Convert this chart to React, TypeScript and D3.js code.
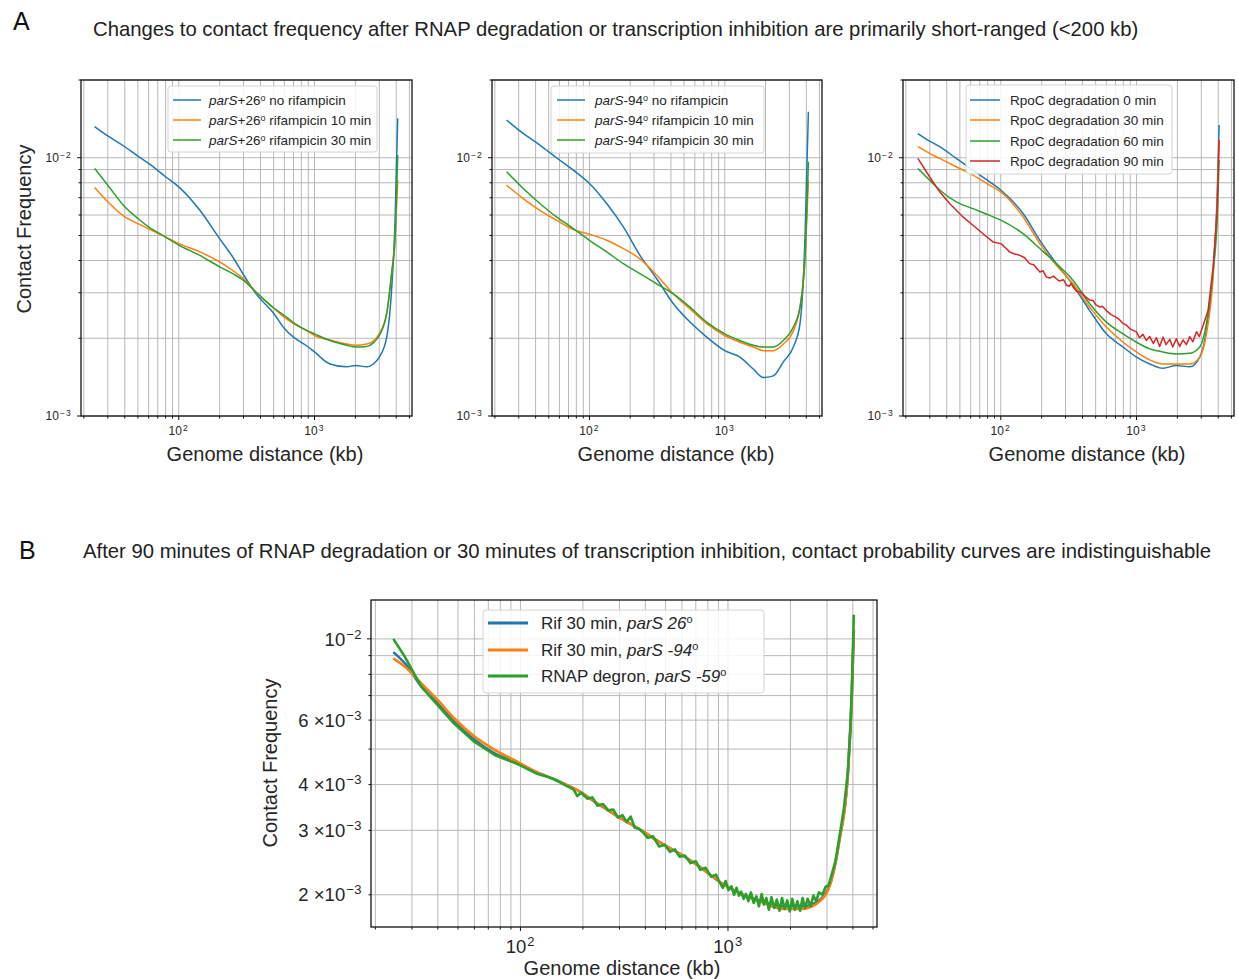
import React, { useEffect } from 'react';
import * as d3 from 'd3';

const FONT = '"Liberation Sans", Arial, Helvetica, sans-serif';
const BLUE = '#1f77b4';
const ORANGE = '#ff7f0e';
const GREEN = '#2ca02c';
const RED = '#d62728';

// ---------- data (kb, contact frequency) ----------
const A1_X = [24, 30, 40, 50, 60, 80, 100, 143, 200, 252, 300, 375, 500, 600, 700, 900, 1000, 1300, 1726, 2000, 2424, 2712, 3000, 3404, 3706, 3921, 4100];
const A1_NO_RIF = [0.0132, 0.01214, 0.01103, 0.01015, 0.00951, 0.00844, 0.00771, 0.00626, 0.00486, 0.0041, 0.00352, 0.00295, 0.0025, 0.00218, 0.00202, 0.00185, 0.00177, 0.00159, 0.00155, 0.00157, 0.00155, 0.00159, 0.00169, 0.00202, 0.00315, 0.00573, 0.01422];
const A1_RIF10 = [0.00767, 0.00675, 0.0059, 0.00556, 0.0053, 0.00493, 0.00465, 0.00432, 0.00395, 0.00365, 0.0034, 0.003, 0.00262, 0.00241, 0.00228, 0.00212, 0.00205, 0.00197, 0.0019, 0.00188, 0.0019, 0.00195, 0.00208, 0.0025, 0.0036, 0.0049, 0.0082];
const A1_RIF30 = [0.00909, 0.00783, 0.00646, 0.00582, 0.0054, 0.00493, 0.00459, 0.00419, 0.00378, 0.00355, 0.00335, 0.003, 0.00262, 0.00245, 0.0023, 0.00213, 0.00208, 0.00196, 0.00188, 0.00185, 0.00186, 0.00192, 0.00205, 0.0025, 0.0036, 0.0049, 0.01024];

const A2_X = [24.4, 32.4, 43, 57, 76, 100, 134, 178, 236, 314, 417, 553, 735, 1000, 1294, 1624, 1926, 2282, 2707, 3210, 3594, 3914, 4144];
const A2_NO_RIF = [0.014, 0.01242, 0.0112, 0.01, 0.00895, 0.00795, 0.00665, 0.0054, 0.00419, 0.0034, 0.00272, 0.00231, 0.00202, 0.00179, 0.00169, 0.00152, 0.00141, 0.00143, 0.00162, 0.00185, 0.00228, 0.00493, 0.01506];
const A2_RIF10 = [0.00783, 0.00695, 0.00626, 0.00573, 0.00527, 0.00506, 0.00479, 0.00445, 0.00406, 0.00351, 0.00297, 0.0026, 0.00228, 0.00205, 0.00193, 0.00185, 0.00179, 0.00179, 0.0019, 0.00214, 0.00264, 0.00413, 0.00819];
const A2_RIF30 = [0.00883, 0.0076, 0.00665, 0.0059, 0.00532, 0.00479, 0.00432, 0.00389, 0.00356, 0.00325, 0.00297, 0.00264, 0.00231, 0.00208, 0.00196, 0.00188, 0.00185, 0.00185, 0.00196, 0.00221, 0.00264, 0.00413, 0.00965];

const A3_X = [24.5, 29.9, 35.5, 47, 62.4, 82.8, 100, 146, 194, 257, 341, 452, 600, 796, 1000, 1251, 1567, 1966, 2466, 2923, 3273, 3667, 3926, 4060];
const A3_DEG0 = [0.0124, 0.0116, 0.01104, 0.00994, 0.00895, 0.00807, 0.0075, 0.00608, 0.00479, 0.00389, 0.00321, 0.00256, 0.00208, 0.00185, 0.00169, 0.00159, 0.00153, 0.00157, 0.00155, 0.00169, 0.00214, 0.00366, 0.00706, 0.0134];
const A3_DEG30 = [0.01104, 0.0104, 0.00994, 0.00923, 0.00857, 0.00783, 0.00738, 0.0059, 0.00465, 0.00383, 0.00325, 0.00264, 0.00221, 0.00193, 0.00177, 0.00165, 0.00159, 0.00159, 0.00159, 0.00169, 0.00208, 0.00345, 0.00665, 0.01172];
const A3_DEG60 = [0.00909, 0.00819, 0.0075, 0.00675, 0.00635, 0.00598, 0.00573, 0.00508, 0.00445, 0.00389, 0.00335, 0.00272, 0.00231, 0.00208, 0.00193, 0.00182, 0.00177, 0.00174, 0.00175, 0.00185, 0.00228, 0.00366, 0.00573, 0.00979];
const A3_DEG90_X = [24.5, 29.9, 35.5, 42, 52.7, 62.4, 74, 87.7, 100, 110, 116, 125, 138, 150, 163, 175, 185, 194, 205, 217, 230, 245, 257, 270, 290, 305, 320, 330, 341, 360, 382, 400, 420, 452, 480, 500, 536, 560, 600, 650, 711, 750, 796, 840, 891, 950, 998, 1050, 1117, 1180, 1251, 1330, 1402, 1480, 1567, 1650, 1758, 1850, 1966, 2080, 2203, 2330, 2466, 2600, 2767, 2900, 3093, 3366, 3667, 3926, 4060];
const A3_DEG90 = [0.00994, 0.00844, 0.00738, 0.00665, 0.0059, 0.00548, 0.00508, 0.00472, 0.00465, 0.00445, 0.00432, 0.00425, 0.00419, 0.0041, 0.00389, 0.00385, 0.00372, 0.00361, 0.00365, 0.00345, 0.00342, 0.00348, 0.0034, 0.00333, 0.00337, 0.00321, 0.00318, 0.00326, 0.00316, 0.00305, 0.00302, 0.00298, 0.0029, 0.00281, 0.0028, 0.0027, 0.00264, 0.00266, 0.00256, 0.00247, 0.00241, 0.00236, 0.00228, 0.00225, 0.00218, 0.00214, 0.00212, 0.00201, 0.00207, 0.00196, 0.00203, 0.00191, 0.00201, 0.00186, 0.00202, 0.00189, 0.00198, 0.00185, 0.00199, 0.00186, 0.00197, 0.00189, 0.00203, 0.00194, 0.00212, 0.00203, 0.00224, 0.00256, 0.00377, 0.00626, 0.01172];

const B_X = [24.4, 27.7, 33.3, 39.9, 47.9, 60.1, 75.5, 97, 119, 149, 188, 235, 295, 371, 466, 585, 735, 921, 1157, 1453, 1822, 2288, 2743, 3145, 3446, 3776, 3950, 4040];
const B_RIF_26 = [0.0092, 0.00858, 0.00741, 0.00667, 0.00594, 0.0053, 0.00486, 0.00459, 0.00433, 0.00411, 0.00386, 0.00355, 0.00327, 0.00303, 0.00279, 0.00259, 0.00238, 0.00216, 0.00201, 0.00192, 0.00186, 0.00186, 0.00193, 0.00219, 0.00283, 0.00424, 0.007, 0.0105];
const B_RIF_94 = [0.00885, 0.0084, 0.00756, 0.00681, 0.00607, 0.00541, 0.00497, 0.00461, 0.00433, 0.00411, 0.00386, 0.00355, 0.00327, 0.00303, 0.00279, 0.00259, 0.00238, 0.00216, 0.00201, 0.00191, 0.00183, 0.00183, 0.00191, 0.00218, 0.00282, 0.00422, 0.00695, 0.0106];
const B_DEGRON_X = [24.4, 27.7, 33.3, 39.9, 47.9, 60.1, 75.5, 97, 119, 135, 149, 165, 180, 188, 196, 210, 222, 235, 250, 265, 280, 295, 310, 325, 340, 355, 371, 390, 410, 435, 466, 495, 525, 555, 585, 620, 660, 700, 735, 780, 830, 875, 921,
  945, 975, 1005, 1040, 1070, 1100, 1130, 1157, 1190, 1220, 1255, 1290, 1330, 1370, 1410, 1453, 1490, 1530, 1575, 1620, 1670, 1720, 1770, 1822, 1875, 1930, 1985, 2040, 2100, 2160, 2225, 2288, 2350, 2420, 2500, 2580, 2660, 2743, 2850, 2950, 3050, 3145,
  3300, 3446, 3620, 3776, 3880, 3950, 4040];
const B_DEGRON = [0.01, 0.00895, 0.00741, 0.00659, 0.00587, 0.00523, 0.00481, 0.00455, 0.00429, 0.0042, 0.00411, 0.00398, 0.00388, 0.00372, 0.0038, 0.00366, 0.00369, 0.0035, 0.00354, 0.0034, 0.00342, 0.00325, 0.0033, 0.00316, 0.00327, 0.00305, 0.00303, 0.00296, 0.00286, 0.00289, 0.00271, 0.00274, 0.00262, 0.00266, 0.00254, 0.00256, 0.00244, 0.00247, 0.00234, 0.00237, 0.00224, 0.00227, 0.00214,
  0.00209, 0.00218, 0.00206, 0.00211, 0.002, 0.00209, 0.00199, 0.00204, 0.00195, 0.00201, 0.00192, 0.00203, 0.0019, 0.00198, 0.00186, 0.00201, 0.00188, 0.00196, 0.00182, 0.00197, 0.00184, 0.00194, 0.00181, 0.00196, 0.00183, 0.00193, 0.0018, 0.00195, 0.00182, 0.00192, 0.00181, 0.00196, 0.00184, 0.00195, 0.00186, 0.00199, 0.00192, 0.00203, 0.002, 0.0021, 0.00212, 0.00225,
  0.00248, 0.00288, 0.00345, 0.00429, 0.0056, 0.00725, 0.01164];

// ---------- ticks ----------
const X_DOMAIN: [number, number] = [19.05, 5225];
const X_MAJOR = [100, 1000];
const X_MINOR = [20, 30, 40, 50, 60, 70, 80, 90, 200, 300, 400, 500, 600, 700, 800, 900, 2000, 3000, 4000, 5000];
const X_LABELS = [{ v: 100, exp: '2' }, { v: 1000, exp: '3' }];

const A_Y_DOMAIN: [number, number] = [0.001, 0.02];
const A_Y_MAJOR = [0.001, 0.01];
const A_Y_MINOR = [0.002, 0.003, 0.004, 0.005, 0.006, 0.007, 0.008, 0.009, 0.02];
const A_Y_LABELS = [{ v: 0.01, mant: '', exp: '−2' }, { v: 0.001, mant: '', exp: '−3' }];

const B_Y_DOMAIN: [number, number] = [0.001633, 0.01277];
const B_Y_MAJOR = [0.01];
const B_Y_MINOR = [0.002, 0.003, 0.004, 0.005, 0.006, 0.007, 0.008, 0.009];
const B_Y_LABELS = [
  { v: 0.01, mant: '', exp: '−2' },
  { v: 0.006, mant: '6 ×', exp: '−3' },
  { v: 0.004, mant: '4 ×', exp: '−3' },
  { v: 0.003, mant: '3 ×', exp: '−3' },
  { v: 0.002, mant: '2 ×', exp: '−3' },
];

type Series = { x: number[]; y: number[]; color: string; label: React.ReactNode; linear?: boolean };
type LegendCfg = { x: number; y: number; w: number; h: number; rows: number[]; lineX0: number; lineX1: number; textX: number; fs: number; lw: number };

function Panel(p: {
  id: string;
  left: number;
  top: number;
  width: number;
  height: number;
  yDomain: [number, number];
  yMajor: number[];
  yMinor: number[];
  yLabels: { v: number; mant: string; exp: string }[];
  series: Series[];
  lw: number;
  tickFs: number;
  supFs: number;
  supDy: number;
  supLs: number;
  xLabY: number;
  yLabDx: number;
  legend: LegendCfg;
}) {
  const xs = d3.scaleLog().domain(X_DOMAIN).range([p.left, p.left + p.width]);
  const ys = d3.scaleLog().domain(p.yDomain).range([p.top + p.height, p.top]);
  const bottom = p.top + p.height;
  const inY = (v: number) => v >= p.yDomain[0] * 0.999 && v <= p.yDomain[1] * 1.001;
  const gridX = [...X_MAJOR, ...X_MINOR];
  const gridY = [...p.yMajor, ...p.yMinor].filter(inY);
  const L = p.legend;
  return (
    <g>
      <defs>
        <clipPath id={p.id}>
          <rect x={p.left} y={p.top} width={p.width} height={p.height} />
        </clipPath>
      </defs>
      <g stroke="#b8b8b8" strokeWidth={1}>
        {gridX.map((v) => (
          <line key={'gx' + v} x1={xs(v)} x2={xs(v)} y1={p.top} y2={bottom} />
        ))}
        {gridY.map((v) => (
          <line key={'gy' + v} x1={p.left} x2={p.left + p.width} y1={ys(v)} y2={ys(v)} />
        ))}
      </g>
      <g clipPath={`url(#${p.id})`} fill="none">
        {p.series.map((s, i) => {
          const pts = s.x.map((x, j) => [x, s.y[j]] as [number, number]);
          const line = d3
            .line<[number, number]>()
            .x((d) => xs(d[0]))
            .y((d) => ys(d[1]))
            .curve(s.linear ? d3.curveLinear : d3.curveMonotoneX);
          return <path key={i} d={line(pts) || ''} stroke={s.color} strokeWidth={p.lw} strokeLinejoin="round" />;
        })}
      </g>
      <rect x={p.left} y={p.top} width={p.width} height={p.height} fill="none" stroke="#111" strokeWidth={1.3} />
      <g stroke="#111" strokeWidth={1}>
        {X_MAJOR.map((v) => (
          <line key={'tx' + v} x1={xs(v)} x2={xs(v)} y1={bottom} y2={bottom + 4} />
        ))}
        {X_MINOR.map((v) => (
          <line key={'tnx' + v} x1={xs(v)} x2={xs(v)} y1={bottom} y2={bottom + 2.5} />
        ))}
        {p.yMajor.filter(inY).map((v) => (
          <line key={'ty' + v} x1={p.left - 4} x2={p.left} y1={ys(v)} y2={ys(v)} />
        ))}
        {p.yMinor.filter(inY).map((v) => (
          <line key={'tny' + v} x1={p.left - 2.5} x2={p.left} y1={ys(v)} y2={ys(v)} />
        ))}
      </g>
      <g fill="#262626" fontFamily={FONT} fontSize={p.tickFs}>
        {X_LABELS.map((t) => (
          <text key={'lx' + t.v} x={xs(t.v)} y={p.xLabY} textAnchor="middle">
            10
            <tspan fontSize={p.supFs} dy={-p.supDy} dx={1} letterSpacing={p.supLs}>
              {t.exp}
            </tspan>
          </text>
        ))}
        {p.yLabels.map((t) => (
          <text key={'ly' + t.v} x={p.left - p.yLabDx} y={ys(t.v) + p.tickFs * 0.36} textAnchor="end">
            {t.mant}10
            <tspan fontSize={p.supFs} dy={-p.supDy} dx={1} letterSpacing={p.supLs}>
              {t.exp}
            </tspan>
          </text>
        ))}
      </g>
      <g>
        <rect x={L.x} y={L.y} width={L.w} height={L.h} rx={3} fill="#fff" fillOpacity={0.85} stroke="#d4d4d4" strokeWidth={1} />
        {p.series.map((s, i) => (
          <g key={'lg' + i}>
            <line x1={L.lineX0} x2={L.lineX1} y1={L.rows[i]} y2={L.rows[i]} stroke={s.color} strokeWidth={L.lw} />
            <text x={L.textX} y={L.rows[i] + L.fs * 0.36} fontFamily={FONT} fontSize={L.fs} fill="#262626">
              {s.label}
            </text>
          </g>
        ))}
      </g>
    </g>
  );
}

const aLabel = (site: string, rest: string) => (
  <>
    <tspan fontStyle="italic">parS</tspan>
    {site}
    <tspan fontSize={9} dy={-4}>
      o
    </tspan>
    <tspan dy={4}>{' ' + rest}</tspan>
  </>
);

const bLabel = (pre: string, site: string) => (
  <>
    {pre}
    <tspan fontStyle="italic">{'parS ' + site}</tspan>
    <tspan fontSize={11} dy={-6}>
      o
    </tspan>
  </>
);

export default function App() {
  useEffect(() => {
    document.body.style.margin = '0';
  }, []);

  const aCommon = {
    height: 336,
    top: 80,
    yDomain: A_Y_DOMAIN,
    yMajor: A_Y_MAJOR,
    yMinor: A_Y_MINOR,
    yLabels: A_Y_LABELS,
    lw: 1.5,
    tickFs: 12,
    supFs: 8.5,
    supDy: 4.5,
    supLs: 1.2,
    xLabY: 435,
    yLabDx: 9,
  };

  const panelLefts = [81, 492, 903];
  const legFs = 13.5;

  return (
    <svg width={1238} height={979} style={{ position: 'absolute', left: 0, top: 0, display: 'block', background: '#fff' }}>
      <rect x={0} y={0} width={1238} height={979} fill="#fff" />
      {/* Titles */}
      <text x={13} y={30} fontFamily={FONT} fontSize={25} fill="#111">A</text>
      <text x={93} y={36} fontFamily={FONT} fontSize={20.3} fill="#222">
        Changes to contact frequency after RNAP degradation or transcription inhibition are primarily short-ranged (&lt;200 kb)
      </text>
      <text x={19} y={559} fontFamily={FONT} fontSize={25} fill="#111">B</text>
      <text x={83} y={558} fontFamily={FONT} fontSize={20.3} fill="#222">
        After 90 minutes of RNAP degradation or 30 minutes of transcription inhibition, contact probability curves are indistinguishable
      </text>

      <Panel
        id="pa1"
        {...aCommon}
        left={panelLefts[0]}
        width={331}
        series={[
          { x: A1_X, y: A1_NO_RIF, color: BLUE, label: aLabel('+26', 'no rifampicin') },
          { x: A1_X, y: A1_RIF10, color: ORANGE, label: aLabel('+26', 'rifampicin 10 min') },
          { x: A1_X, y: A1_RIF30, color: GREEN, label: aLabel('+26', 'rifampicin 30 min') },
        ]}
        legend={{ x: 168, y: 86, w: 209, h: 66, rows: [100, 120, 140], lineX0: 173, lineX1: 201, textX: 209, fs: legFs, lw: 1.5 }}
      />
      <Panel
        id="pa2"
        {...aCommon}
        left={panelLefts[1]}
        width={330}
        series={[
          { x: A2_X, y: A2_NO_RIF, color: BLUE, label: aLabel('-94', 'no rifampicin') },
          { x: A2_X, y: A2_RIF10, color: ORANGE, label: aLabel('-94', 'rifampicin 10 min') },
          { x: A2_X, y: A2_RIF30, color: GREEN, label: aLabel('-94', 'rifampicin 30 min') },
        ]}
        legend={{ x: 551, y: 86, w: 213, h: 67, rows: [100, 120, 140], lineX0: 557, lineX1: 585, textX: 595, fs: legFs, lw: 1.5 }}
      />
      <Panel
        id="pa3"
        {...aCommon}
        left={panelLefts[2]}
        width={331}
        series={[
          { x: A3_X, y: A3_DEG0, color: BLUE, label: 'RpoC degradation 0 min' },
          { x: A3_X, y: A3_DEG30, color: ORANGE, label: 'RpoC degradation 30 min' },
          { x: A3_X, y: A3_DEG60, color: GREEN, label: 'RpoC degradation 60 min' },
          { x: A3_DEG90_X, y: A3_DEG90, color: RED, label: 'RpoC degradation 90 min', linear: true },
        ]}
        legend={{ x: 966, y: 85, w: 206, h: 89, rows: [100, 120, 141, 161], lineX0: 970, lineX1: 1000, textX: 1010, fs: legFs, lw: 1.5 }}
      />
      {[0, 1, 2].map((i) => (
        <text key={'axl' + i} x={panelLefts[i] + 184} y={461} textAnchor="middle" fontFamily={FONT} fontSize={20} fill="#262626">
          Genome distance (kb)
        </text>
      ))}
      <text transform="translate(31,229) rotate(-90)" textAnchor="middle" fontFamily={FONT} fontSize={20} fill="#262626">
        Contact Frequency
      </text>

      <Panel
        id="pb"
        left={371}
        top={600}
        width={506}
        height={327}
        yDomain={B_Y_DOMAIN}
        yMajor={B_Y_MAJOR}
        yMinor={B_Y_MINOR}
        yLabels={B_Y_LABELS}
        lw={2.6}
        tickFs={18.5}
        supFs={13}
        supDy={7}
        supLs={0.5}
        xLabY={953}
        yLabDx={9}
        series={[
          { x: B_X, y: B_RIF_26, color: BLUE, label: bLabel('Rif 30 min, ', '26') },
          { x: B_X, y: B_RIF_94, color: ORANGE, label: bLabel('Rif 30 min, ', '-94') },
          { x: B_DEGRON_X, y: B_DEGRON, color: GREEN, label: bLabel('RNAP degron, ', '-59'), linear: true },
        ]}
        legend={{ x: 483, y: 610, w: 281, h: 83, rows: [623, 650, 676], lineX0: 488, lineX1: 528, textX: 541, fs: 17, lw: 3 }}
      />
      <text x={622} y={975} textAnchor="middle" fontFamily={FONT} fontSize={20} fill="#262626">
        Genome distance (kb)
      </text>
      <text transform="translate(277,763) rotate(-90)" textAnchor="middle" fontFamily={FONT} fontSize={20} fill="#262626">
        Contact Frequency
      </text>
    </svg>
  );
}
